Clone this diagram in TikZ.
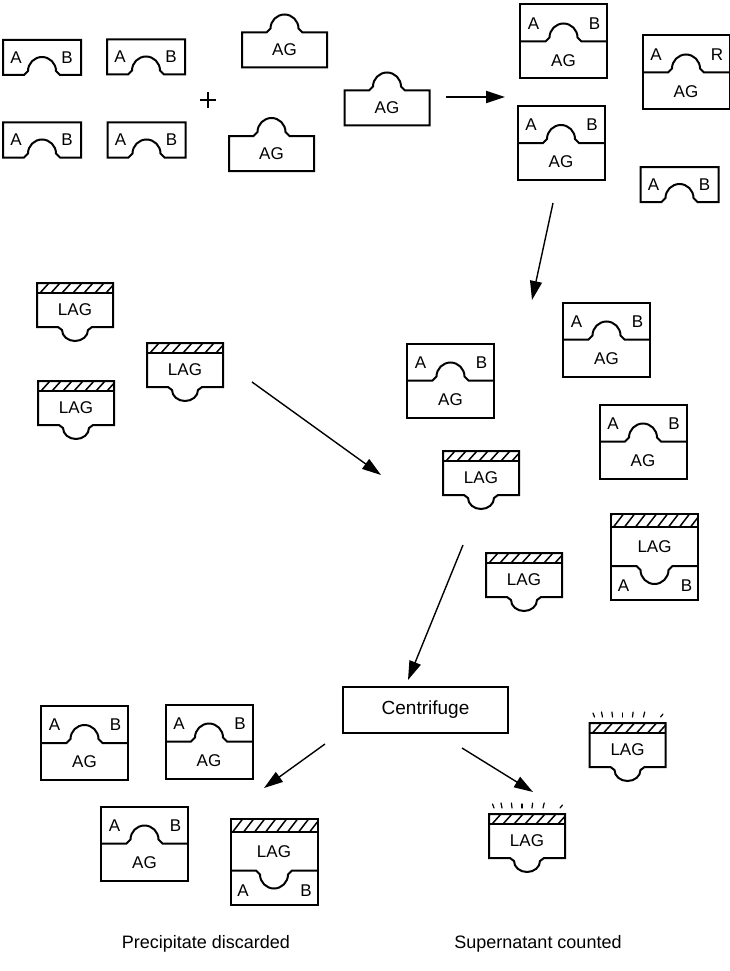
\documentclass[tikz,border=0pt]{standalone}
\usepackage{fontspec}
\setmainfont{Liberation Sans}
\usetikzlibrary{arrows.meta}

\tikzset{
  mol/.style={line width=2pt, line join=miter},
  hatch/.style={line width=1.5pt},
  ray/.style={line width=1.2pt, line cap=round},
  lbl/.style={font=\fontsize{17}{20}\selectfont, inner sep=0pt},
  arr/.style={line width=1.4pt, -{Triangle[length=19pt,width=12pt]}},
  antibody/.pic={
    \draw[mol] (-39,-17.5) -- (39,-17.5) -- (39,17.5) -- (18,17.5) -- (14,13.5)
      .. controls (14,5.8) and (7.7,-0.5) .. (0,-0.5)
      .. controls (-7.7,-0.5) and (-14,5.8) .. (-14,13.5) -- (-18,17.5) -- (-39,17.5) -- cycle;
    \node[lbl] (-a) at (-26,0) {A};
    \node[lbl] (-b) at (25,0) {B};
  },
  antigen/.pic={
    \draw[mol] (-42.5,-17.5) -- (-18,-17.5) -- (-14,-21.5)
      .. controls (-14,-29.2) and (-7.7,-35.5) .. (0,-35.5)
      .. controls (7.7,-35.5) and (14,-29.2) .. (14,-21.5) -- (18,-17.5) -- (42.5,-17.5)
      -- (42.5,17.5) -- (-42.5,17.5) -- cycle;
    \node[lbl] (-g) at (0,0) {AG};
  },
  pics/bound/.style={code={
    \draw[mol] (-43.5,-37) rectangle (43.5,37);
    \draw[mol] (-43.5,0) -- (-18,0) -- (-14,-4)
      .. controls (-14,-11.7) and (-7.7,-18) .. (0,-18)
      .. controls (7.7,-18) and (14,-11.7) .. (14,-4) -- (18,0) -- (43.5,0);
    \node[lbl] (-a) at (-30,-18) {A};
    \node[lbl] (-b) at (31,-18) {#1};
    \node[lbl] (-g) at (0,19) {AG};
  }},
  pics/bound/.default=B,
  labelled/.pic={
    \begin{scope}
      \clip (-38,-22) rectangle (38,-12);
      \foreach \h in {-46,-35,...,40} \draw[hatch] (\h,-12) -- (\h+9,-22);
    \end{scope}
    \draw[mol] (-38,-12) -- (38,-12);
    \draw[mol] (-38,-22) -- (38,-22) -- (38,22) -- (17,22) -- (13,25)
      .. controls (13,31.1) and (7.2,36) .. (0,36)
      .. controls (-7.2,36) and (-13,31.1) .. (-13,25) -- (-17,22) -- (-38,22) -- cycle;
    \node[lbl] (-g) at (0,5) {LAG};
  },
  labelledbound/.pic={
    \begin{scope}
      \clip (-43.5,-43) rectangle (43.5,-30);
      \foreach \h in {-52,-41,...,46} \draw[hatch] (\h,-30) -- (\h+10,-43);
    \end{scope}
    \draw[mol] (-43.5,-43) rectangle (43.5,43);
    \draw[mol] (-43.5,-30) -- (43.5,-30);
    \draw[mol] (-43.5,9) -- (-18,9) -- (-14,13)
      .. controls (-14,20.7) and (-7.7,27) .. (0,27)
      .. controls (7.7,27) and (14,20.7) .. (14,13) -- (18,9) -- (43.5,9);
    \node[lbl] (-g) at (0,-10) {LAG};
    \node[lbl] (-a) at (-31,29) {A};
    \node[lbl] (-b) at (32,29) {B};
  },
  rays/.pic={
    \foreach \x/\s/\l in {-33/-1.5/4,-25/-1/5,-15/-0.6/5,-5/0/4,5/0.6/5,16/1.2/5,33/2.5/3}
      \draw[ray] (\x,0) -- ++(\s,-\l);
  }
}

\begin{document}
\begin{tikzpicture}[x=1pt, y=-1pt]
\useasboundingbox (0,0) rectangle (730,971);

\pic (ab1) at (42,57.5) {antibody};
\pic (ab2) at (146,57) {antibody};
\pic (ab3) at (42,140) {antibody};
\pic (ab4) at (146.5,140) {antibody};
\draw[line width=2.2pt] (200,100) -- (216,100) (208,92) -- (208,108);
\pic (ag1) at (284.5,50) {antigen};
\pic (ag2) at (271.5,153.5) {antigen};
\pic (ag3) at (387,108) {antigen};

\pic (cx1) at (563.5,41.5) {bound};
\pic (cx2) at (561,143) {bound};
\pic (cx3) at (686,72.5) {bound=R};
\pic (ab5) at (679.5,184.5) {antibody};

\pic (lag1) at (75,305) {labelled};
\pic (lag2) at (185,365) {labelled};
\pic (lag3) at (76,403) {labelled};

\pic (cx4) at (450.5,380.5) {bound};
\pic (cx5) at (606.5,339.5) {bound};
\pic (cx6) at (643,441.5) {bound};
\pic (lag4) at (481,473) {labelled};
\pic (lab1) at (654.5,557) {labelledbound};
\pic (lag5) at (524,575) {labelled};

\node[draw, mol, lbl, font=\fontsize{19}{22}\selectfont, minimum width=165pt, minimum height=46pt] (spin) at (425.5,710) {Centrifuge};

\pic (cx7) at (84.5,743) {bound};
\pic (cx8) at (209,741.5) {bound};
\pic (cx9) at (144.5,843.5) {bound};
\pic (lab2) at (274,861.5) {labelledbound};

\pic (lag7) at (627.5,745) {labelled};
\pic (glow7) at (627.5,717) {rays};
\pic (lag6) at (527,836) {labelled};
\pic (glow6) at (527,808) {rays};

\node[lbl, font=\fontsize{18}{21}\selectfont] (waste) at (206,944) {Precipitate discarded};
\node[lbl, font=\fontsize{18}{21}\selectfont] (count) at (538,944) {Supernatant counted};

\coordinate (mixout) at (446,97);
\coordinate (mixin) at (505,97);
\coordinate (boundout) at (553,203);
\coordinate (boundin) at (532,300);
\coordinate (tracerout) at (252,382);
\coordinate (tracerin) at (381,475);
\coordinate (mixtureout) at (463,545);
\coordinate (spinin) at (408,680);
\coordinate (pelletout) at (325,744);
\coordinate (pelletin) at (264,788);
\coordinate (supout) at (462,748);
\coordinate (supin) at (533,792);

\draw[arr, line width=2.2pt] (mixout) -- (mixin);
\draw[arr] (boundout) -- (boundin);
\draw[arr] (tracerout) -- (tracerin);
\draw[arr] (mixtureout) -- (spinin);
\draw[arr] (pelletout) -- (pelletin);
\draw[arr] (supout) -- (supin);
\end{tikzpicture}
\end{document}
